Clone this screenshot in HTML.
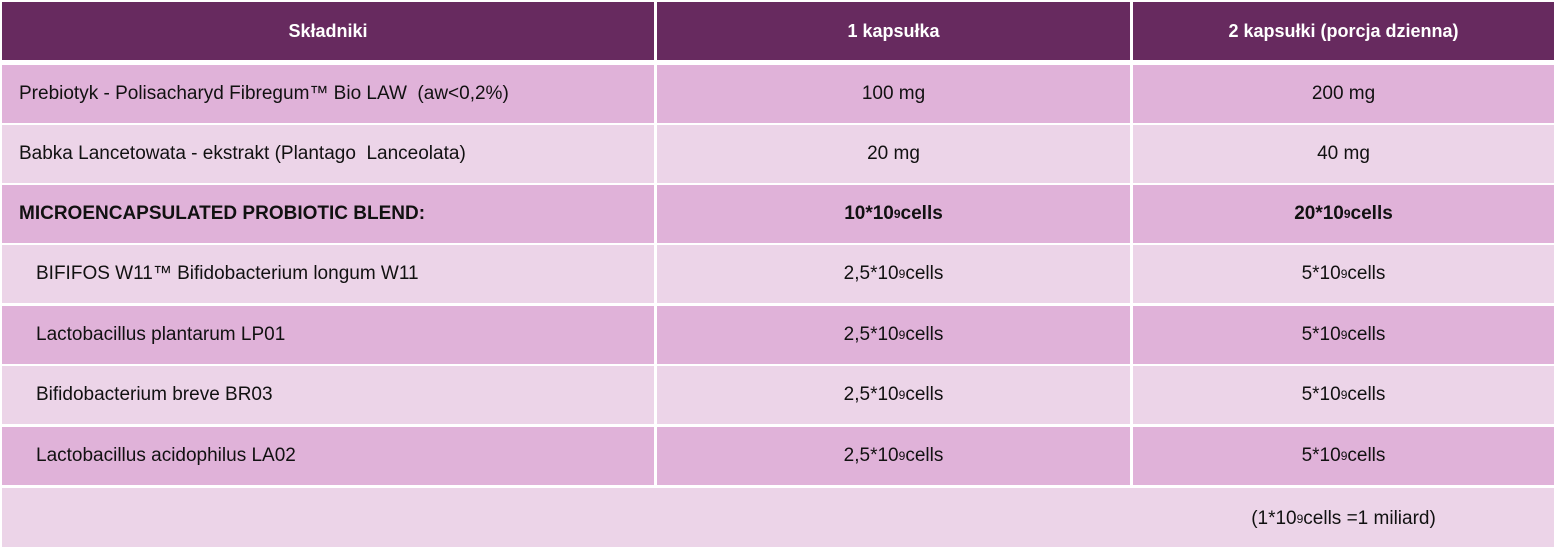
<!DOCTYPE html>
<html><head><meta charset="utf-8"><style>
body{margin:0;width:1559px;height:551px;background:#fff;position:relative;overflow:hidden;font-family:"Liberation Sans",sans-serif;}
.c{position:absolute;display:flex;align-items:center;font-size:19px;color:#111;box-sizing:border-box;white-space:nowrap;}
.h{background:#672a5f;color:#fff;font-weight:bold;justify-content:center;font-size:18px;}
.d{background:#e0b2d9;}
.l{background:#ecd4e8;}
.ctr{justify-content:center;}
.b{font-weight:bold;}
sup{font-size:12px;vertical-align:8px;line-height:0;}
</style></head><body>
<div class="c h" style="left:2px;top:2px;width:652px;height:58px">Składniki</div>
<div class="c h" style="left:657px;top:2px;width:473px;height:58px">1 kapsułka</div>
<div class="c h" style="left:1133px;top:2px;width:421px;height:58px">2 kapsułki (porcja dzienna)</div>
<div id="rows"></div>
<script>
const names=["Prebiotyk - Polisacharyd Fibregum™ Bio LAW &nbsp;(aw&lt;0,2%)","Babka Lancetowata - ekstrakt (Plantago &nbsp;Lanceolata)","MICROENCAPSULATED PROBIOTIC BLEND:","BIFIFOS W11™ Bifidobacterium longum W11","Lactobacillus plantarum LP01","Bifidobacterium breve BR03","Lactobacillus acidophilus LA02"];
const one=["100 mg","20 mg","10*10<sup>9</sup> cells","2,5*10<sup>9</sup> cells","2,5*10<sup>9</sup> cells","2,5*10<sup>9</sup> cells","2,5*10<sup>9</sup> cells"];
const two=["200 mg","40 mg","20*10<sup>9</sup> cells","5*10<sup>9</sup> cells","5*10<sup>9</sup> cells","5*10<sup>9</sup> cells","5*10<sup>9</sup> cells"];
const tops=[65,125,185,245,306,366,427];
let h='';
for(let i=0;i<names.length;i++){
 const cls=i%2==0?'d':'l', t=tops[i], ht=58, bold=i==2?' b':'', pad=i>=3?34:17;
 h+=`<div class="c ${cls}${bold}" style="left:2px;top:${t}px;width:652px;height:${ht}px;padding-left:${pad}px">${names[i]}</div>`;
 h+=`<div class="c ${cls} ctr${bold}" style="left:657px;top:${t}px;width:473px;height:${ht}px">${one[i]}</div>`;
 h+=`<div class="c ${cls} ctr${bold}" style="left:1133px;top:${t}px;width:421px;height:${ht}px">${two[i]}</div>`;
}
h+=`<div class="c l" style="left:2px;top:488px;width:1552px;height:59px"></div>`;
h+=`<div class="c ctr" style="left:1133px;top:490px;width:421px;height:58px">(1*10<sup>9</sup> cells =1 miliard)</div>`;
document.getElementById('rows').innerHTML=h;
</script>
</body></html>
